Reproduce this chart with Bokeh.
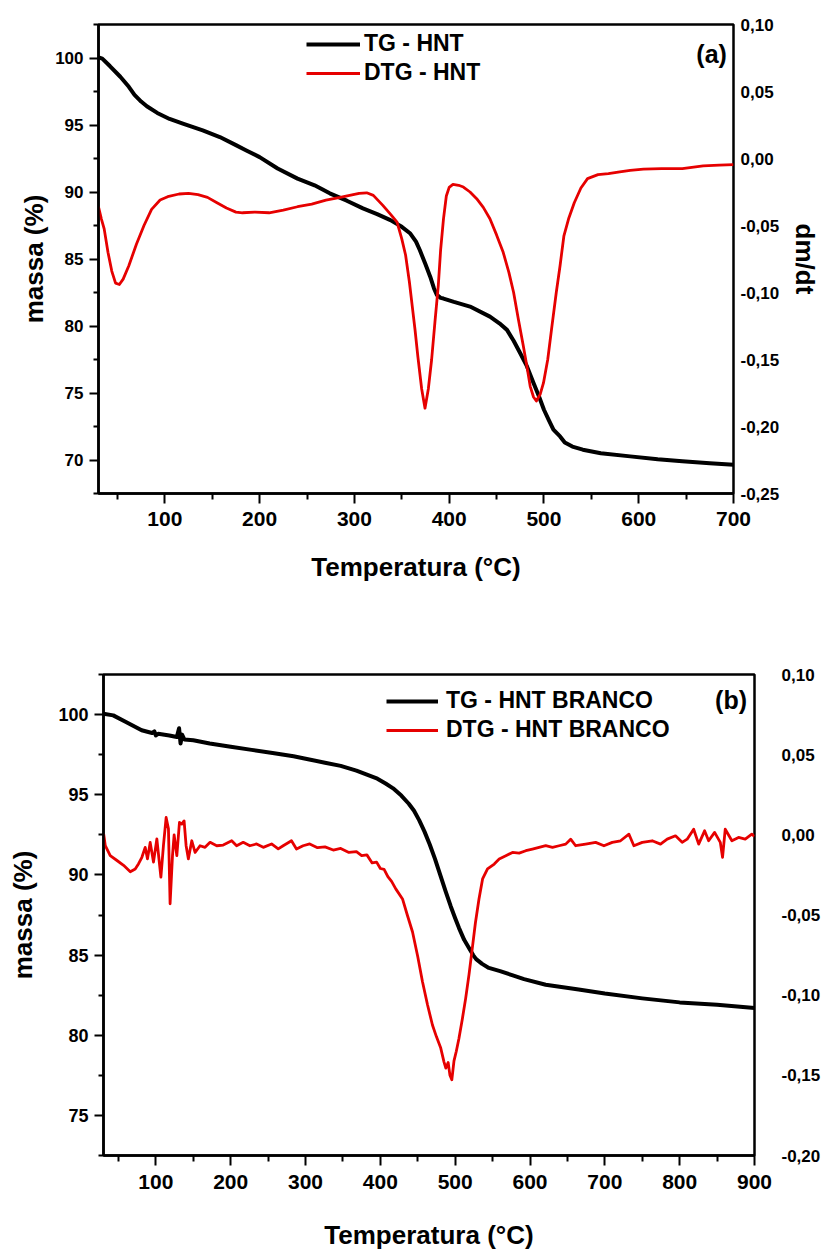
from bokeh.plotting import figure
from bokeh.models import (Range1d, LinearAxis, FixedTicker, CustomJSTickFormatter,
                          Legend, LegendItem, Label)
from bokeh.embed import file_html
from bokeh.resources import INLINE

FONT = "Liberation Sans"
RED = "#e60000"

# ---------------- data: panel (a) ----------------
tg_a_T = [30, 34, 42, 53, 62, 68, 75, 81, 92, 105, 119, 140, 158, 175, 186, 200, 219, 240, 258, 274,
          292, 309, 324, 338, 350, 359, 365, 369, 375, 380, 384, 387, 391, 394, 405, 422, 443, 453, 461, 468,
          475, 482, 489, 495, 500, 505, 510, 517, 522, 530, 541, 560, 591, 620, 646, 675, 700]
tg_a_m = [100.05, 99.95, 99.4, 98.6, 97.85, 97.25, 96.75, 96.4, 95.9, 95.45, 95.1, 94.6, 94.1, 93.5, 93.1, 92.6, 91.75, 91.0, 90.5, 89.9,
          89.35, 88.78, 88.35, 87.9, 87.4, 86.9, 86.3, 85.67, 84.6, 83.68, 82.8, 82.32, 82.1, 82.05, 81.8, 81.45, 80.7, 80.2, 79.71, 78.9,
          77.97, 77.0, 75.74, 74.7, 73.75, 73.0, 72.26, 71.76, 71.3, 71.0, 70.77, 70.5, 70.27, 70.05, 69.9, 69.75, 69.65]

dtg_a_points = [(30, -0.036), (33, -0.045), (36, -0.0525), (40, -0.070), (44, -0.084), (48, -0.093), (52, -0.094),
                (56, -0.090), (62, -0.080), (70, -0.064), (78, -0.050), (86, -0.038), (95, -0.031), (103, -0.0285),
                (115, -0.0265), (125, -0.026), (135, -0.027), (145, -0.029), (155, -0.033), (165, -0.037), (175, -0.040),
                (182, -0.0405), (195, -0.040), (210, -0.0405), (225, -0.0385), (240, -0.036), (255, -0.034), (270, -0.031),
                (285, -0.029), (295, -0.0275), (305, -0.026), (313, -0.0256), (320, -0.0275), (330, -0.035), (338, -0.0415),
                (345, -0.0475), (350, -0.060), (354, -0.072), (358, -0.092), (361, -0.110), (364, -0.128), (367, -0.148),
                (371, -0.172), (374.5, -0.1863), (378, -0.172), (381.5, -0.150), (385, -0.122), (388.5, -0.095), (391, -0.068),
                (394, -0.045), (397, -0.028), (400, -0.0215), (404, -0.0193), (410, -0.020), (415, -0.0213), (422, -0.025),
                (429, -0.030), (436, -0.0365), (443, -0.045), (450, -0.057), (457, -0.070), (463, -0.085), (468, -0.100),
                (473, -0.120), (478, -0.139), (482, -0.155), (485.5, -0.170), (489, -0.178), (492, -0.181), (496, -0.176),
                (499.5, -0.1675), (504, -0.150), (508, -0.1275), (513, -0.100), (517, -0.080), (521, -0.058), (526, -0.045),
                (532, -0.033), (539, -0.022), (546, -0.015), (557, -0.012), (568, -0.0113), (580, -0.010), (591, -0.0088),
                (605, -0.008), (624, -0.0075), (646, -0.0075), (668, -0.0055), (685, -0.005), (700, -0.0045)]

x_ticks_a = [100, 200, 300, 400, 500, 600, 700]
mass_ticks_a = [70, 75, 80, 85, 90, 95, 100]
dtg_ticks_a = [-0.25, -0.20, -0.15, -0.10, -0.05, 0.0, 0.05, 0.10]

# ---------------- data: panel (b) ----------------
tg_b_T = [30, 43, 60, 81, 95, 98, 100, 103, 118, 128, 131, 133, 135, 138, 150, 172, 200, 228, 256, 284,
          305, 326, 347, 368, 382, 396, 407, 417, 428, 438, 445, 452, 459, 466, 473, 480, 487, 494, 500, 505,
          512, 519, 524, 528, 536, 545, 560, 576, 592, 621, 665, 700, 750, 800, 850, 900]
tg_b_m = [100.05, 99.95, 99.54, 99.02, 98.85, 98.95, 98.7, 98.8, 98.7, 98.6, 99.15, 98.2, 98.75, 98.45, 98.4, 98.2, 98.0, 97.8, 97.6, 97.4,
          97.2, 97.0, 96.8, 96.5, 96.25, 96.0, 95.7, 95.4, 94.95, 94.44, 94.0, 93.4, 92.7, 91.9, 91.0, 90.0, 89.0, 88.05, 87.3, 86.7,
          85.95, 85.4, 85.0, 84.75, 84.45, 84.2, 84.0, 83.75, 83.5, 83.15, 82.85, 82.6, 82.3, 82.05, 81.9, 81.7]

dtg_b_points = [(30.2, 0.0005), (32.4, -0.0068), (39, -0.013), (48, -0.016), (56.8, -0.019), (65.8, -0.023), (72.4, -0.0213),
                (76.9, -0.018), (81.3, -0.014), (85.7, -0.0078), (88.8, -0.015), (92.4, -0.0047), (96.8, -0.017), (101.3, -0.0026),
                (106.7, -0.0264), (110.1, -0.0068), (113.7, 0.0108), (116.8, 0.0037), (119, -0.043), (122.2, -0.013), (124.4, 0.0),
                (128, -0.013), (131.5, 0.0077), (134.6, 0.0067), (137.7, 0.0087), (140.4, -0.0068), (143.4, -0.015), (148, -0.0037),
                (152.4, -0.011), (159, -0.0068), (165.7, -0.0078), (172.4, -0.0047), (181.3, -0.0068), (190, -0.0064), (201.3, -0.0037),
                (207.9, -0.0068), (216.7, -0.0047), (225.6, -0.0068), (234.6, -0.0057), (243.5, -0.0078), (254.6, -0.0057),
                (263.5, -0.0088), (270.1, -0.0068), (281.2, -0.0037), (287.9, -0.0088), (296.7, -0.0068), (305.6, -0.0057),
                (316, -0.0080), (326, -0.0075), (337, -0.0095), (347, -0.0085), (358, -0.0110), (368, -0.0105), (375, -0.0130),
                (382, -0.0125), (389, -0.0175), (395, -0.0170), (400, -0.0210), (405, -0.0215), (410, -0.0260), (415, -0.0290),
                (420.6, -0.0337), (429.6, -0.040), (436, -0.050), (443, -0.0606), (450, -0.076), (456.3, -0.0916), (463, -0.106),
                (469.6, -0.1186), (475, -0.126), (480.7, -0.133), (485, -0.1416), (487.5, -0.1455), (490.6, -0.142), (493, -0.150),
                (495.5, -0.1528), (498.4, -0.141), (501.5, -0.135), (505, -0.127), (509.5, -0.115), (514, -0.102), (518.5, -0.087),
                (522.8, -0.071), (527, -0.055), (531.8, -0.040), (536.6, -0.0275), (543.2, -0.0213), (552.2, -0.0182),
                (558.8, -0.0151), (567.7, -0.013), (576.6, -0.011), (585.5, -0.0114), (594.4, -0.0099), (603.2, -0.0089),
                (612.1, -0.0078), (621, -0.0068), (630, -0.0078), (638.8, -0.0068), (647.7, -0.0058), (654.3, -0.0027),
                (661, -0.0068), (674.3, -0.0058), (687.7, -0.0047), (698.8, -0.0068), (709.9, -0.0047), (721, -0.0037),
                (732.2, 0.0004), (738.8, -0.0068), (750, -0.0047), (763.3, -0.0037), (774.4, -0.0058), (783.3, -0.0027),
                (794.4, -0.0006), (803.3, -0.0047), (810, -0.0027), (818.7, 0.0035), (825.4, -0.0058), (833.3, 0.0025),
                (838.7, -0.0037), (846.7, 0.0015), (854.3, -0.0047), (857.3, -0.014), (860.9, 0.0035), (869.8, -0.0037),
                (878.7, -0.0016), (887.6, -0.0027), (896.4, 0.0004), (900, -0.001)]

x_ticks_b = [100, 200, 300, 400, 500, 600, 700, 800, 900]
mass_ticks_b = [75, 80, 85, 90, 95, 100]
dtg_ticks_b = [-0.20, -0.15, -0.10, -0.05, 0.0, 0.05, 0.10]

x_label = "Temperatura (°C)"
y_label = "massa (%)"
dtg_label = "dm/dt"


def halves(ticks):
    step = ticks[1] - ticks[0]
    return [t - step / 2 for t in ticks] + [ticks[-1] + step / 2]


def style_axis(ax, label_size, tick_out, minor_out, standoff, title_standoff):
    ax.axis_line_width = 2.5
    ax.axis_line_color = "black"
    ax.major_tick_line_width = 2
    ax.minor_tick_line_width = 2
    ax.major_tick_line_color = "black"
    ax.minor_tick_line_color = "black"
    ax.major_tick_in = 0
    ax.major_tick_out = tick_out
    ax.minor_tick_in = 0
    ax.minor_tick_out = minor_out
    ax.major_label_text_font = FONT
    ax.major_label_text_font_style = "bold"
    ax.major_label_text_font_size = label_size
    ax.major_label_text_color = "black"
    ax.major_label_standoff = standoff
    ax.axis_label_text_font = FONT
    ax.axis_label_text_font_style = "bold"
    ax.axis_label_text_font_size = "26px"
    ax.axis_label_text_color = "black"
    ax.axis_label_standoff = title_standoff


comma_fmt = "return tick.toFixed(2).replace('.', ',');"


def make_panel(tg_T, tg_m, dtg_pts, xr, yr, dr, x_ticks, m_ticks, d_ticks,
               borders, left_title_standoff, x_label_standoff, bottom_title_standoff, right_standoff,
               right_title, legend_labels, legend_loc, legend_glyph_w, legend_standoff,
               tag, tag_pos, ylabel_size):
    bl, br, bt, bb = borders
    p = figure(width=823, height=626, x_range=Range1d(*xr), y_range=Range1d(*yr),
               output_backend="svg", toolbar_location=None,
               min_border_left=bl, min_border_right=br, min_border_top=bt, min_border_bottom=bb)
    p.extra_y_ranges = {"dtg": Range1d(*dr)}
    p.grid.visible = False
    p.outline_line_color = "black"
    p.outline_line_width = 2.5
    p.outline_line_alpha = 1.0
    p.background_fill_color = "white"
    p.border_fill_color = "white"

    p.xaxis.ticker = FixedTicker(ticks=x_ticks, minor_ticks=halves(x_ticks))
    p.yaxis.ticker = FixedTicker(ticks=m_ticks, minor_ticks=halves(m_ticks))
    p.xaxis.axis_label = x_label
    p.yaxis.axis_label = y_label
    style_axis(p.xaxis[0], "21px", 10, 6, x_label_standoff, bottom_title_standoff)
    style_axis(p.yaxis[0], ylabel_size, 9, 5, 6, left_title_standoff)

    ra = LinearAxis(y_range_name="dtg", ticker=FixedTicker(ticks=d_ticks),
                    formatter=CustomJSTickFormatter(code=comma_fmt))
    style_axis(ra, "17px", 0, 0, right_standoff, 8)
    ra.axis_line_color = None
    ra.major_tick_line_color = None
    ra.minor_tick_line_color = None
    if right_title:
        ra.axis_label = right_title
    p.add_layout(ra, "right")

    r1 = p.line(tg_T, tg_m, line_color="black", line_width=4, line_join="round")
    dT = [a for a, b in dtg_pts]
    dV = [b for a, b in dtg_pts]
    r2 = p.line(dT, dV, line_color=RED, line_width=2.8, line_join="round", y_range_name="dtg")

    leg = Legend(items=[LegendItem(label=legend_labels[0], renderers=[r1]),
                        LegendItem(label=legend_labels[1], renderers=[r2])],
                 location=legend_loc, glyph_width=legend_glyph_w, glyph_height=26,
                 label_standoff=legend_standoff, spacing=2, padding=0, margin=0,
                 border_line_color=None, background_fill_alpha=0,
                 label_text_font=FONT, label_text_font_style="bold", label_text_font_size="23px",
                 label_text_color="black")
    p.add_layout(leg)

    p.add_layout(Label(x=tag_pos[0], y=tag_pos[1], text=tag, text_align="right", text_baseline="middle",
                       text_font=FONT, text_font_style="bold", text_font_size="25px", text_color="black"))
    return p


pa = make_panel(tg_a_T, tg_a_m, dtg_a_points, (30, 700), (67.5, 102.5), (-0.25, 0.10),
                x_ticks_a, mass_ticks_a, dtg_ticks_a,
                (98, 88, 24, 133), 3, 8, 23, 7, dtg_label,
                ("TG - HNT", "DTG - HNT"), (208, 407), 54, 4, "(a)", (693, 100.3), "17px")

pb = make_panel(tg_b_T, tg_b_m, dtg_b_points, (30, 900), (72.5, 102.5), (-0.20, 0.10),
                x_ticks_b, mass_ticks_b, dtg_ticks_b,
                (103, 67, 48, 95), 17, 9, 28, 27, None,
                ("TG - HNT BRANCO", "DTG - HNT BRANCO"), (283, 412), 52, 8, "(b)", (890, 100.9), "18px")

open("out.html", "w").write(file_html([pa, pb], INLINE))
